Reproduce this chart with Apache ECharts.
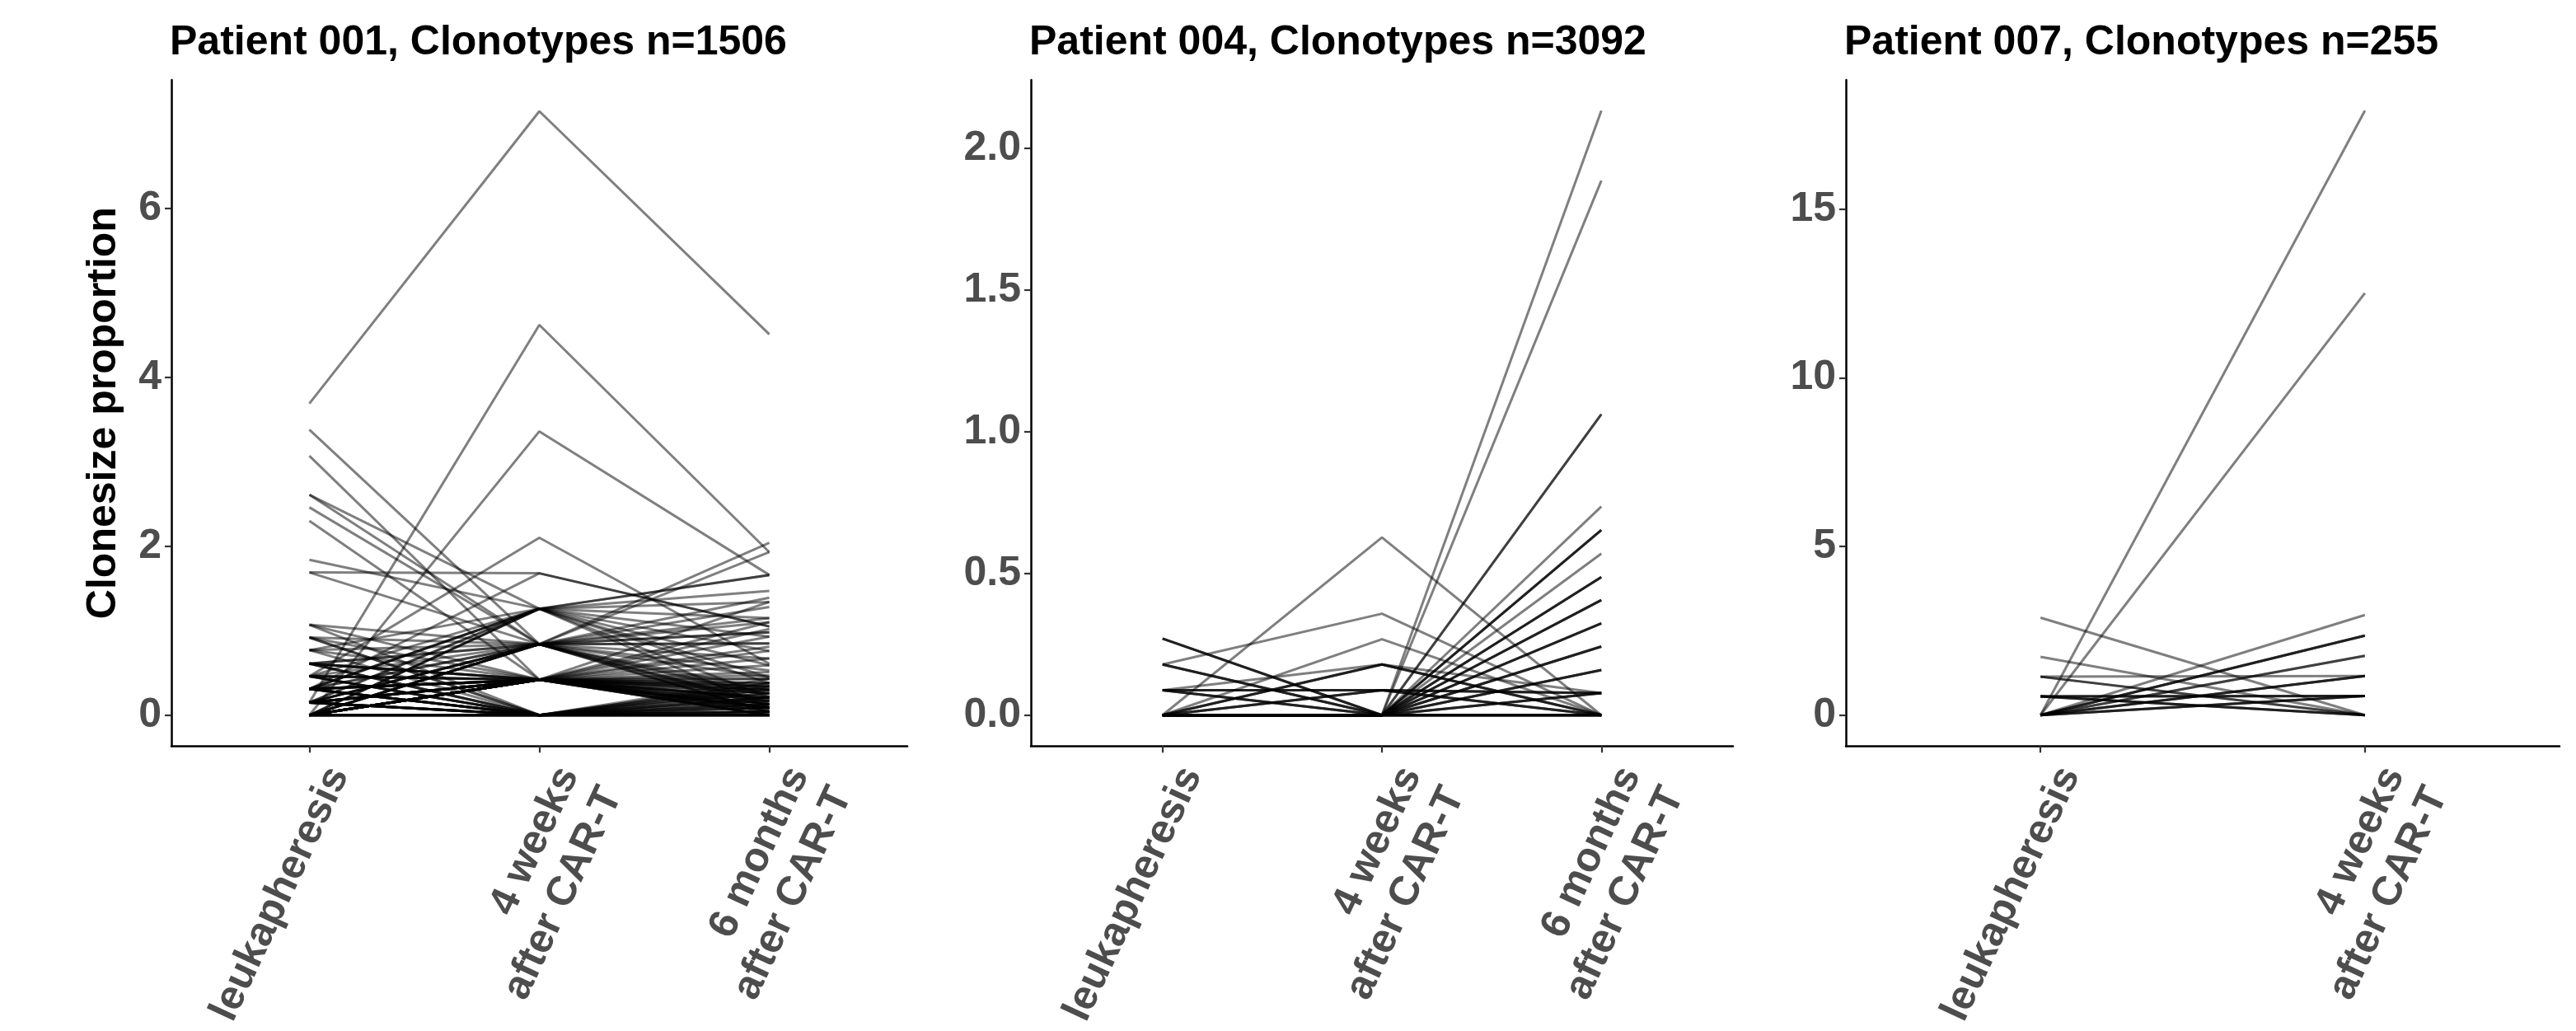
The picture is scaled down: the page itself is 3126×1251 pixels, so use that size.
<!DOCTYPE html>
<html>
<head>
<meta charset="utf-8">
<script src="https://cdn.jsdelivr.net/npm/echarts@6/dist/echarts.min.js"></script>
<style>
html,body{margin:0;padding:0;background:#fff;}
#chart{width:3126px;height:1251px;}
</style>
</head>
<body>
<div id="chart"></div>
<script>
// ---------------- data ----------------
const timepoints = ['leukapheresis', '4 weeks\nafter CAR-T', '6 months\nafter CAR-T'];
const panelTitles = ['Patient 001, Clonotypes n=1506', 'Patient 004, Clonotypes n=3092', 'Patient 007, Clonotypes n=255'];
const yAxisTitle = 'Clonesize proportion';

const yTicks1 = [0, 2, 4, 6];
const yTickLabels1 = ['0', '2', '4', '6'];
const yTicks2 = [0, 0.5, 1, 1.5, 2];
const yTickLabels2 = ['0.0', '0.5', '1.0', '1.5', '2.0'];
const yTicks3 = [0, 5, 10, 15];
const yTickLabels3 = ['0', '5', '10', '15'];

// Patient 001: [leukapheresis, 4 weeks, 6 months, (number of clones with this trajectory)]
const patient001 = [
  [3.69, 7.15, 4.51], [0.15, 4.62, 1.93], [0.00, 3.36, 1.66], [0.46, 2.10, 0.61],
  [3.38, 0.84, 0.15], [3.07, 0.42, 0.30], [2.61, 1.26, 0.45], [2.61, 0.84, 0.22],
  [2.46, 0.84, 0.10], [2.30, 0.42, 0.08], [1.84, 1.26, 0.59], [1.69, 1.68, 1.05],
  [1.69, 0.84, 0.67], [0.31, 1.68, 1.05], [0.31, 1.26, 1.66, 2], [0.00, 0.84, 2.04],
  [0.15, 0.84, 1.93], [1.07, 0.84, 0.25], [1.07, 0.42, 0.35], [1.07, 0.00, 0.04],
  [0.92, 0.42, 0.06], [0.92, 0.84, 0.98], [0.92, 0.00, 0.21], [0.77, 0.42, 0.13],
  [0.77, 1.26, 1.47], [0.77, 0.84, 0.03], [0.77, 0.00, 0.00], [0.61, 0.84, 1.39],
  [0.61, 0.42, 0.20, 2], [0.61, 0.00, 0.05], [0.61, 0.84, 0.85], [0.46, 0.84, 1.15],
  [0.46, 0.42, 1.34], [0.46, 0.00, 0.09], [0.46, 0.42, 0.04], [0.46, 1.26, 0.93],
  [0.31, 0.84, 0.85], [0.31, 0.42, 1.10], [0.31, 0.00, 0.17], [0.31, 0.42, 0.08],
  [0.31, 1.26, 1.34], [0.15, 1.26, 0.76], [0.15, 0.42, 0.93], [0.15, 0.84, 0.53],
  [0.15, 0.00, 0.04], [0.15, 0.42, 0.26], [0.15, 0.84, 1.10], [0.00, 1.26, 1.15],
  [0.00, 0.84, 0.45], [0.00, 0.42, 0.76], [0.00, 0.42, 0.59], [0.00, 0.84, 0.98],
  [0.00, 1.26, 0.38], [0.00, 0.84, 1.28], [0.00, 0.42, 1.02], [0.31, 0.42, 0.81],
  [0.15, 0.42, 0.67], [0.00, 0.84, 0.04], [0.15, 0.84, 0.13], [0.31, 0.84, 0.30],
  [0.00, 1.26, 0.09], [0.15, 1.26, 0.21],
  [0.00, 0.42, 0.00], [0.00, 0.42, 0.04], [0.00, 0.42, 0.09], [0.00, 0.42, 0.13],
  [0.00, 0.42, 0.17], [0.00, 0.42, 0.21], [0.00, 0.42, 0.26], [0.00, 0.42, 0.30],
  [0.00, 0.42, 0.34], [0.00, 0.42, 0.38], [0.00, 0.42, 0.43], [0.00, 0.42, 0.51],
  [0.15, 0.42, 0.00], [0.15, 0.42, 0.09], [0.15, 0.42, 0.17], [0.15, 0.42, 0.34],
  [0.15, 0.42, 0.43], [0.31, 0.42, 0.00], [0.31, 0.42, 0.13], [0.31, 0.42, 0.30],
  [0.31, 0.42, 0.47], [0.46, 0.42, 0.00], [0.46, 0.42, 0.21], [0.61, 0.42, 0.09],
  [0.61, 0.42, 0.38],
  [0.15, 0.00, 0.09], [0.15, 0.00, 0.13], [0.15, 0.00, 0.21], [0.31, 0.00, 0.26],
  [0.31, 0.00, 0.04], [0.46, 0.00, 0.30], [0.61, 0.00, 0.34], [0.15, 0.00, 0.38],
  [0.31, 0.00, 0.43], [0.46, 0.00, 0.13], [0.15, 0.00, 0.00, 2], [0.31, 0.00, 0.00, 2],
  [0.46, 0.00, 0.00], [0.61, 0.00, 0.00], [0.92, 0.00, 0.00],
  [0.00, 0.00, 0.04], [0.00, 0.00, 0.09], [0.00, 0.00, 0.13], [0.00, 0.00, 0.17],
  [0.00, 0.00, 0.21], [0.00, 0.00, 0.26], [0.00, 0.00, 0.30], [0.00, 0.00, 0.34],
  [0.00, 0.00, 0.38]
];

// Patient 004: [leukapheresis, 4 weeks, 6 months, number of clones]
const patient004 = [
  [0.000, 0.627, 0.000, 1], [0.179, 0.358, 0.000, 1], [0.000, 0.268, 0.000, 1],
  [0.088, 0.179, 0.078, 1], [0.000, 0.179, 0.000, 3], [0.270, 0.000, 0.000, 3],
  [0.179, 0.000, 0.000, 3], [0.088, 0.088, 0.078, 3], [0.088, 0.000, 0.000, 3],
  [0.000, 0.088, 0.000, 3], [0.000, 0.000, 2.133, 1], [0.000, 0.000, 1.886, 1],
  [0.000, 0.000, 1.062, 2], [0.000, 0.000, 0.736, 1], [0.000, 0.000, 0.653, 3],
  [0.000, 0.000, 0.570, 1], [0.000, 0.000, 0.487, 3], [0.000, 0.000, 0.406, 3],
  [0.000, 0.000, 0.324, 3], [0.000, 0.000, 0.242, 3], [0.000, 0.000, 0.159, 3],
  [0.000, 0.000, 0.078, 3]
];

// Patient 007: [leukapheresis, 4 weeks, number of clones]
const patient007 = [
  [0.000, 17.93, 1], [0.000, 12.52, 1], [2.890, 0.000, 1], [1.730, 0.000, 1],
  [1.140, 1.160, 1], [1.140, 0.000, 2], [0.555, 0.570, 3], [0.555, 0.000, 3],
  [0.000, 2.970, 1], [0.000, 2.360, 3], [0.000, 1.760, 2], [0.000, 1.160, 3],
  [0.000, 0.570, 3]
];

// ---------------- layout / style ----------------
const FONT = 'Liberation Sans, Arial, Helvetica, sans-serif';
const panels = [
  {lines: patient001, n: 3, grid: {left: 208, top: 97, width: 893, height: 810}, yMin: -0.366, yMax: 7.521, ticks: yTicks1, labels: yTickLabels1, title: panelTitles[0]},
  {lines: patient004, n: 3, grid: {left: 1251, top: 97, width: 852, height: 810}, yMin: -0.109, yMax: 2.241, ticks: yTicks2, labels: yTickLabels2, title: panelTitles[1]},
  {lines: patient007, n: 2, grid: {left: 2240, top: 97, width: 866, height: 810}, yMin: -0.917, yMax: 18.84, ticks: yTicks3, labels: yTickLabels3, title: panelTitles[2]}
];

const grids = [], xAxes = [], yAxes = [], titles = [], series = [];
panels.forEach((p, k) => {
  grids.push(Object.assign({containLabel: false}, p.grid));
  titles.push({
    text: p.title, left: p.grid.left - 2, top: 27, padding: 0,
    textStyle: {fontSize: 50, fontWeight: 'bold', fontFamily: FONT, color: '#000', lineHeight: 50}
  });
  const cats = [];
  for (let i = 0; i < p.n; i++) cats.push(i);
  xAxes.push({
    gridIndex: k, type: 'value', min: -0.6, max: p.n - 1 + 0.6,
    axisLine: {show: true, onZero: false, lineStyle: {color: '#000', width: 2.5}},
    axisTick: {show: true, customValues: cats, length: 8, lineStyle: {color: '#333', width: 2.2}},
    axisLabel: {
      show: true, customValues: cats, formatter: v => timepoints[Math.round(v)],
      rotate: 65, align: 'right', verticalAlign: 'top', padding: [10, 0, 0, 0], margin: 12,
      fontSize: 50, fontWeight: 'bold', fontFamily: FONT, color: '#4d4d4d', lineHeight: 58,
      hideOverlap: false
    },
    splitLine: {show: false}
  });
  const y = {
    gridIndex: k, type: 'value', min: p.yMin, max: p.yMax,
    axisLine: {show: true, onZero: false, lineStyle: {color: '#000', width: 2.5}},
    axisTick: {show: true, customValues: p.ticks, length: 8, lineStyle: {color: '#333', width: 2.2}},
    axisLabel: {
      show: true, customValues: p.ticks, formatter: v => p.labels[p.ticks.indexOf(v)],
      margin: 12, fontSize: 50, fontWeight: 'bold', fontFamily: FONT, color: '#4d4d4d'
    },
    splitLine: {show: false}
  };
  if (k === 0) {
    y.name = yAxisTitle;
    y.nameLocation = 'middle';
    y.nameGap = 57;
    y.nameTextStyle = {fontSize: 50, fontWeight: 'bold', fontFamily: FONT, color: '#000'};
  }
  yAxes.push(y);

  p.lines.forEach(line => {
    const count = line.length > p.n ? line[p.n] : 1;
    const pts = line.slice(0, p.n).map((v, i) => [i, v]);
    for (let c = 0; c < count; c++) {
      series.push({
        type: 'line', xAxisIndex: k, yAxisIndex: k, data: pts,
        symbol: 'none', silent: true, animation: false,
        lineStyle: {color: 'rgba(0,0,0,0.5)', width: 3},
        emphasis: {disabled: true}
      });
    }
  });
});

const chart = echarts.init(document.getElementById('chart'), null, {renderer: 'canvas'});
chart.setOption({
  backgroundColor: '#fff',
  animation: false,
  title: titles,
  grid: grids,
  xAxis: xAxes,
  yAxis: yAxes,
  series: series
});
</script>
</body>
</html>
